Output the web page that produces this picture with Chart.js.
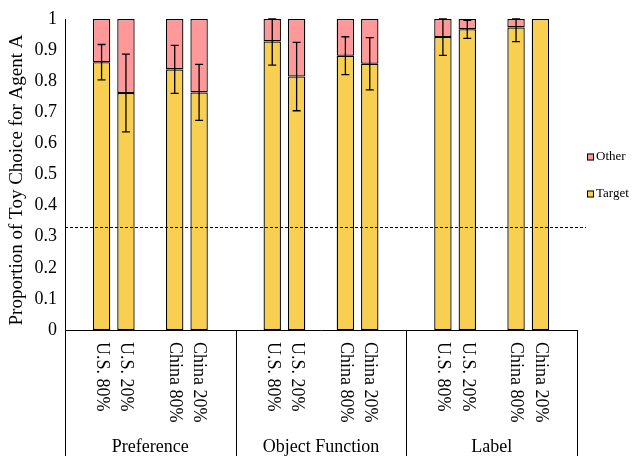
<!DOCTYPE html>
<html>
<head>
<meta charset="utf-8">
<script src="https://cdn.jsdelivr.net/npm/chart.js@4/dist/chart.umd.min.js"></script>
<style>
  html, body { margin: 0; padding: 0; background: #fff; }
  canvas { display: block; }
</style>
</head>
<body>
<canvas id="chart" width="633" height="456"></canvas>
<script>
// Seven slots per condition: blanks separate the U.S. pair from the China pair
const categories = [
  '', 'U.S. 80%', 'U.S. 20%', '', 'China 80%', 'China 20%', '',
  '', 'U.S. 80%', 'U.S. 20%', '', 'China 80%', 'China 20%', '',
  '', 'U.S. 80%', 'U.S. 20%', '', 'China 80%', 'China 20%', ''
];
const groups = ['Preference', 'Object Function', 'Label'];
const slotsPerGroup = 7;

// Proportion choosing the target toy
const targetValues = [
  null, 0.861, 0.762, null, 0.838, 0.764, null,
  null, 0.928, 0.815, null, 0.882, 0.856, null,
  null, 0.942, 0.967, null, 0.973, 1.000, null
];
// Proportion choosing the other toy
const otherValues = [
  null, 0.139, 0.238, null, 0.162, 0.236, null,
  null, 0.072, 0.185, null, 0.118, 0.144, null,
  null, 0.058, 0.033, null, 0.027, 0.000, null
];
// Error bar half-lengths on the target proportion
const errorValues = [
  null, 0.057, 0.125, null, 0.077, 0.090, null,
  null, 0.076, 0.110, null, 0.061, 0.084, null,
  null, 0.059, 0.029, null, 0.046, 0.000, null
];
const yTicks = [0, 0.1, 0.2, 0.3, 0.4, 0.5, 0.6, 0.7, 0.8, 0.9, 1];
const chanceLevel = 0.33;

const SERIF = '"Liberation Serif", "Times New Roman", serif';
const YELLOW = '#F9CF52';
const PINK = '#FF9999';

const decorations = {
  id: 'decorations',
  afterDatasetsDraw(chart) {
    const ctx = chart.ctx;
    const ys = chart.scales.y;
    const area = chart.chartArea;

    // chance line
    ctx.save();
    ctx.strokeStyle = '#000';
    ctx.lineWidth = 1;
    ctx.setLineDash([3, 2]);
    const yc = Math.round(ys.getPixelForValue(chanceLevel)) + 0.5;
    ctx.beginPath();
    ctx.moveTo(area.left, yc);
    ctx.lineTo(area.right + 9, yc);
    ctx.stroke();
    ctx.restore();

    // error bars on the target segment
    ctx.save();
    ctx.strokeStyle = '#000';
    ctx.lineWidth = 1.3;
    const meta = chart.getDatasetMeta(0);
    targetValues.forEach((v, i) => {
      const e = errorValues[i];
      if (v === null || !e) return;
      const x = meta.data[i].x;
      const yTop = ys.getPixelForValue(Math.min(v + e, 1));
      const yBot = ys.getPixelForValue(v - e);
      ctx.beginPath();
      ctx.moveTo(x, yTop); ctx.lineTo(x, yBot);
      ctx.moveTo(x - 4, yTop); ctx.lineTo(x + 4, yTop);
      ctx.moveTo(x - 4, yBot); ctx.lineTo(x + 4, yBot);
      ctx.stroke();
    });
    ctx.restore();
  },
  afterDraw(chart) {
    const ctx = chart.ctx;
    const xs = chart.scales.x;
    const area = chart.chartArea;
    const slot = (xs.right - xs.left) / categories.length;

    ctx.save();
    ctx.fillStyle = '#000';

    // rotated category labels, reading downward
    ctx.font = '18px ' + SERIF;
    ctx.textAlign = 'left';
    ctx.textBaseline = 'middle';
    categories.forEach((c, i) => {
      if (!c) return;
      const x = xs.getPixelForValue(i);
      ctx.save();
      ctx.translate(x, area.bottom + 12);
      ctx.rotate(Math.PI / 2);
      ctx.fillText(c, 0, 0);
      ctx.restore();
    });

    // group separators and group names
    ctx.strokeStyle = '#000';
    ctx.lineWidth = 1;
    for (let k = 0; k <= groups.length; k++) {
      const x = Math.round(xs.left + k * slotsPerGroup * slot) + 0.5;
      ctx.beginPath();
      ctx.moveTo(x, area.bottom);
      ctx.lineTo(x, chart.height);
      ctx.stroke();
    }
    ctx.textAlign = 'center';
    ctx.textBaseline = 'middle';
    groups.forEach((g, k) => {
      const x = xs.left + (k + 0.5) * slotsPerGroup * slot;
      ctx.fillText(g, x, 447);
    });

    // y-axis title
    ctx.save();
    ctx.font = '19px ' + SERIF;
    ctx.translate(17, 180);
    ctx.rotate(-Math.PI / 2);
    ctx.fillText('Proportion of Toy Choice for Agent A', 0, 0);
    ctx.restore();

    // legend
    ctx.font = '13px ' + SERIF;
    ctx.textAlign = 'left';
    ctx.textBaseline = 'middle';
    const legendItems = [
      { label: chart.data.datasets[1].label, color: PINK, y: 157 },
      { label: chart.data.datasets[0].label, color: YELLOW, y: 194 }
    ];
    legendItems.forEach(item => {
      const bx = area.right + 10;
      ctx.fillStyle = item.color;
      ctx.fillRect(bx, item.y - 3.5, 7, 7);
      ctx.strokeStyle = '#000';
      ctx.strokeRect(bx + 0.5, item.y - 3, 6, 6);
      ctx.fillStyle = '#000';
      ctx.fillText(item.label, bx + 9, item.y);
    });
    ctx.restore();
  }
};

new Chart(document.getElementById('chart'), {
  type: 'bar',
  data: {
    labels: categories,
    datasets: [
      {
        label: 'Target',
        data: targetValues,
        backgroundColor: YELLOW,
        borderColor: '#000',
        borderWidth: 1.3,
        borderSkipped: false
      },
      {
        label: 'Other',
        data: otherValues,
        backgroundColor: PINK,
        borderColor: '#000',
        borderWidth: 1.3,
        borderSkipped: false
      }
    ]
  },
  options: {
    responsive: false,
    animation: false,
    layout: { padding: { top: 19, right: 56, left: 0, bottom: 0 } },
    datasets: { bar: { categoryPercentage: 1, barPercentage: 0.714 } },
    plugins: {
      legend: { display: false },
      tooltip: { enabled: false }
    },
    scales: {
      x: {
        stacked: true,
        grid: { display: false },
        border: { display: true, color: '#000', width: 1 },
        ticks: { display: false },
        afterFit(s) { s.height = 126; }
      },
      y: {
        stacked: true,
        min: 0,
        max: 1,
        grid: { display: false, drawTicks: false },
        border: { display: true, color: '#000', width: 1 },
        afterBuildTicks(s) { s.ticks = yTicks.map(v => ({ value: v })); },
        ticks: {
          color: '#000',
          padding: 8,
          font: { family: SERIF, size: 18 },
          callback: v => String(Math.round(v * 10) / 10)
        },
        afterFit(s) { s.width = 65; }
      }
    }
  },
  plugins: [decorations]
});
</script>
</body>
</html>
